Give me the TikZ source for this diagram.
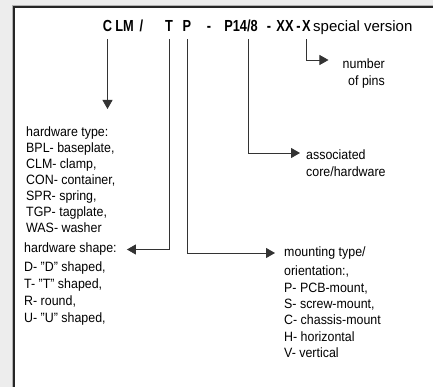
\documentclass[tikz,border=0pt]{standalone}
\usepackage{fontspec}
\setmainfont{Liberation Sans}[FakeStretch=0.92]
\newfontfamily\codefont{Liberation Sans}[FakeStretch=0.8]
\newfontfamily\plainfont{Liberation Sans}
\usetikzlibrary{arrows.meta,positioning}

\tikzset{
  code/.style={font=\codefont\bfseries\fontsize{16}{18}\selectfont, text height=11pt, text depth=0pt,
    inner xsep=0pt, inner ysep=7pt, anchor=base},
  note/.style={font=\fontsize{13.5}{16}\selectfont, align=left, inner sep=0pt},
  link/.style={draw=black!80, line width=0.8pt},
  pointer/.style={link, -{Triangle[width=10pt,length=9pt]}}
}

\begin{document}
\begin{tikzpicture}[x=1pt,y=-1pt]
  \useasboundingbox (0,0) rectangle (433,387);
  \clip (0,0) rectangle (433,387);
  % sheet with its frame
  \fill[black!7] (0,0) rectangle (433,387);
  \draw[black!30, line width=0.8pt] (12.3,400) |- (450,5.3);
  \draw[black!85, line width=1.4pt, fill=white] (14,7) rectangle (450,400);

  % part number
  \node[code] (c) at (107.5,32) {C};
  \node[code] (lm) at (124.5,32) {LM};
  \node[code] (slash) at (141.5,32) {/};
  \node[code] (t) at (169,32) {T};
  \node[code] (p) at (187,32) {P};
  \node[code] (dash1) at (209,32) {-};
  \node[code] (core) at (241,32) {P14/8};
  \node[code] (dash2) at (269,32) {-};
  \node[code] (xx) at (285,32) {XX};
  \node[code] (dash3) at (298.5,32) {-};
  \node[code] (x) at (306.5,32) {X};
  \node[code, font=\plainfont\fontsize{15}{17}\selectfont, anchor=base west] (special) at (313,32) {special version};

  % meaning of each field
  \node[note, anchor=north west] (typelist) at (26,127)
    {hardware type:\\BPL- baseplate,\\CLM- clamp,\\CON- container,\\SPR- spring,\\TGP- tagplate,\\WAS- washer};
  \node[note, anchor=west, inner xsep=10pt] (shapehead) at (14,249.5) {hardware shape:};
  \node[note, font=\fontsize{13.5}{16.7}\selectfont, anchor=north west] (shapelist) at (24,262)
    {D- "D" shaped,\\T- "T" shaped,\\R- round,\\U- "U" shaped,};
  \node[note, anchor=west, inner xsep=9pt] (mounthead) at (275,253) {mounting type/};
  \node[note, font=\fontsize{13.5}{16.4}\selectfont, anchor=north west] (mountlist) at (284,265.8)
    {orientation:,\\P- PCB-mount,\\S- screw-mount,\\C- chassis-mount\\H- horizontal\\V- vertical};
  \node[note, font=\fontsize{13.5}{17}\selectfont, anchor=north west, inner xsep=6pt] (assoc) at (300,150)
    {associated\\core/hardware};
  \node[note, font=\fontsize{13.5}{17}\selectfont, anchor=north east, align=right, inner xsep=14pt] (pins) at (399,59)
    {number\\of pins};

  % leaders
  \draw[pointer] (c.south) -- ([yshift=18pt]c.south |- typelist.north);
  \draw[pointer] (t.south) |- (shapehead.east);
  \draw[pointer] (p.south) |- (mounthead.west);
  \draw[pointer] ([xshift=7pt]core.south) |- ([yshift=-3pt]assoc.north west);
  \draw[pointer] (x.south) |- ([yshift=-1pt]pins.north west);
\end{tikzpicture}
\end{document}
